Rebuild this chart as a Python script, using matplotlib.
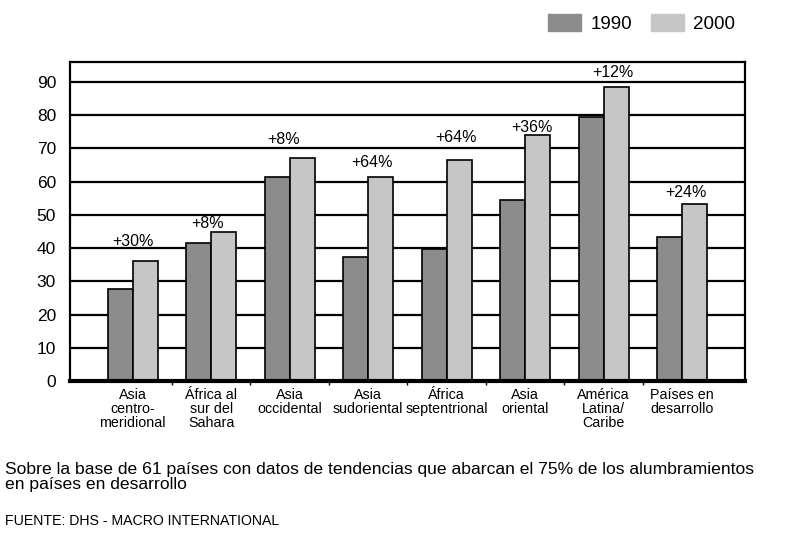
import matplotlib
matplotlib.use('Agg')
import matplotlib.pyplot as plt
import matplotlib.patches as mpatches
import numpy as np

plt.rcParams['font.family'] = ['Liberation Sans', 'DejaVu Sans']

categories = ['Asia\ncentro-\nmeridional', 'África al\nsur del\nSahara', 'Asia\noccidental',
              'Asia\nsudoriental', 'África\nseptentrional', 'Asia\noriental',
              'América\nLatina/\nCaribe', 'Países en\ndesarrollo']
values_1990 = [27.7, 41.4, 61.4, 37.2, 39.6, 54.6, 79.3, 43.2]
values_2000 = [36.1, 44.9, 67.1, 61.4, 66.6, 73.9, 88.5, 53.2]
changes = ['+30%', '+8%', '+8%', '+64%', '+64%', '+36%', '+12%', '+24%']
years = ['1990', '2000']

COLORS = {'1990': '#8c8c8c', '2000': '#c6c6c6'}

# label placement tweaks (pixels above the 2000 bar, x shift in group units)
label_dy = [20, 8, 18, 14, 22, 8, 14, 12]
label_dx = [0.0, -0.05, -0.08, 0.05, 0.12, 0.08, 0.12, 0.05]

fig = plt.figure(figsize=(7.95, 5.33), dpi=100)
ax = fig.add_axes([0.088, 0.285, 0.849, 0.599])

x = np.arange(len(categories))
width = 0.32

ax.yaxis.grid(True, color='black', linewidth=1.6, zorder=0)
ax.set_axisbelow(True)
ax.bar(x - width / 2, values_1990, width, color=COLORS['1990'], edgecolor='black', linewidth=1.2, zorder=2)
ax.bar(x + width / 2, values_2000, width, color=COLORS['2000'], edgecolor='black', linewidth=1.2, zorder=2)

for i, txt in enumerate(changes):
    ax.annotate(txt, xy=(x[i] + label_dx[i], values_2000[i]), xytext=(0, label_dy[i]),
                textcoords='offset pixels', ha='center', va='center', fontsize=11.5)

ax.set_xlim(-0.8, 7.8)
ax.set_ylim(0, 96)
ax.set_yticks(range(0, 100, 10))
ax.set_xticks(x)
ax.set_xticklabels(categories, fontsize=10.3, linespacing=1.0)
ax.tick_params(axis='x', length=0, pad=5)
ax.set_xticks(np.arange(0.5, 7, 1), minor=True)
ax.tick_params(axis='x', which='minor', length=3, width=1)
ax.tick_params(axis='y', length=0, labelsize=12.5, pad=10)
for s in ['top', 'right', 'left']:
    ax.spines[s].set_linewidth(1.6)
ax.spines['bottom'].set_linewidth(3)

# legend at top right
handles = [mpatches.Patch(color=COLORS[y], label=y) for y in years]
fig.legend(handles=handles, loc='upper right', bbox_to_anchor=(0.946, 1.005), ncol=2,
           frameon=False, fontsize=13.5, handlelength=1.75, handleheight=1.0,
           columnspacing=1.0, handletextpad=0.5)

fig.text(0.006, 0.106, 'Sobre la base de 61 países con datos de tendencias que abarcan el 75% de los alumbramientos\n'
         'en países en desarrollo', fontsize=12.6, linespacing=1.0, va='center')
fig.text(0.006, 0.022, 'FUENTE: DHS - MACRO INTERNATIONAL', fontsize=10.2, va='center')

fig.savefig('out.png', dpi=100, facecolor='white')
